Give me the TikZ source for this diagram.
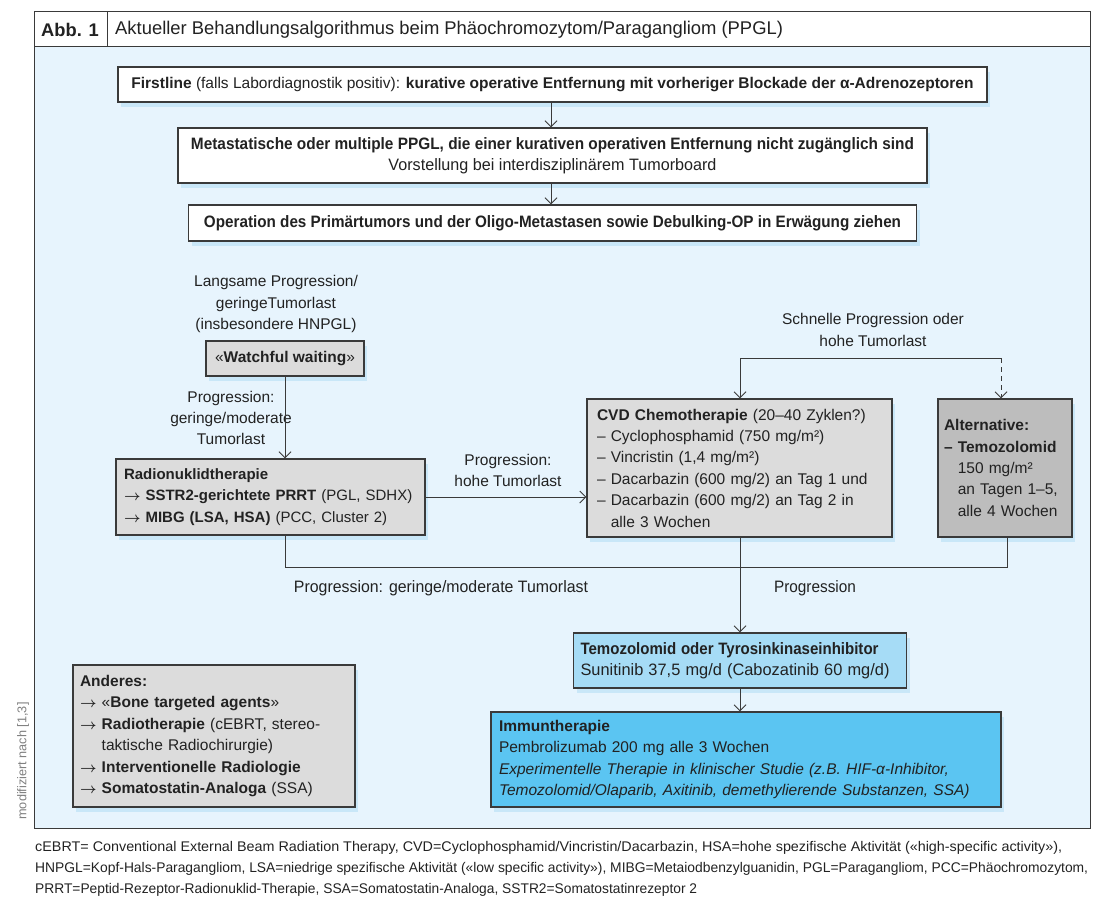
\documentclass[tikz,border=0pt]{standalone}
\usepackage{fontspec}
\setmainfont{Liberation Sans}
\usetikzlibrary{arrows.meta,shadows}
\definecolor{bgblue}{HTML}{E7F4FD}
\definecolor{graybox}{HTML}{DCDCDC}
\definecolor{darkgraybox}{HTML}{BDBDBD}
\definecolor{tkiblue}{HTML}{A6DCF6}
\definecolor{immblue}{HTML}{5BC5F2}
\definecolor{linecol}{HTML}{3A3A3A}
\definecolor{txt}{HTML}{222222}
\definecolor{shadowblue}{HTML}{C6E6F8}
\newcommand\mybody{\fontsize{15.5pt}{21.4pt}\selectfont}
\newcommand\mycond{\fontsize{16.5pt}{21.4pt}\selectfont}
\newcommand\myfoot{\fontsize{14pt}{21pt}\selectfont}
\newcommand\fitw[2]{\resizebox{#1}{\height}{#2}}
\newcommand\rarr{\ensuremath{\boldsymbol{\rightarrow}}}
\usepackage{amsmath}
\begin{document}
\begin{tikzpicture}[x=1pt,y=-1pt,
  box/.style={draw=linecol, line width=1.1pt, inner sep=0pt, font=\mybody, text=txt,
    drop shadow={fill=shadowblue, shadow xshift=3pt, shadow yshift=-5pt, opacity=0.9}},
  lbl/.style={font=\mybody, text=txt, align=center, inner sep=0pt},
  conn/.style={draw=linecol, line width=1pt},
  arr/.style={conn, -{Straight Barb[length=6pt,width=12pt,line width=1pt]}}
]
\useasboundingbox (0,0) rectangle (1100,909);
% frame
\fill[bgblue] (34,47) rectangle (1090,828);
\fill[white] (34,12) rectangle (1090,47);
\draw[linecol, line width=1pt] (34,12) rectangle (1090,828);
\draw[linecol, line width=1pt] (34,47) -- (1090,47);
\draw[linecol, line width=1pt] (107,12) -- (107,47);
\node[font=\fontsize{18.3pt}{20pt}\selectfont\bfseries, text=txt, inner sep=0pt] (abb) at (70,30) {Abb. 1};
\node[font=\fontsize{18.4pt}{20pt}\selectfont, text=txt, anchor=west, inner sep=0pt] (title) at (115,30) {Aktueller Behandlungsalgorithmus beim Phäochromozytom/Paragangliom (PPGL)};

% boxes
\node[box, fill=white, minimum width=869pt, minimum height=35pt] (b1) at (552.5,84.5)
  {\textbf{Firstline} (falls Labordiagnostik positiv): \textbf{kurative operative Entfernung mit vorheriger Blockade der α-Adrenozeptoren}};
\node[box, fill=white, minimum width=749pt, minimum height=55pt, align=center] (b2) at (552.5,155.5)
  {\fitw{723pt}{\mycond\bfseries Metastatische oder multiple PPGL, die einer kurativen operativen Entfernung nicht zugänglich sind}\\\fitw{328pt}{\mycond Vorstellung bei interdisziplinärem Tumorboard}};
\node[box, fill=white, minimum width=728pt, minimum height=36pt] (b3) at (552.5,223)
  {\fitw{697pt}{\mycond\bfseries Operation des Primärtumors und der Oligo-Metastasen sowie Debulking-OP in Erwägung ziehen}};
\node[box, fill=graybox, minimum width=158pt, minimum height=35pt] (ww) at (285,358.5)
  {«\textbf{Watchful waiting}»};
\node[box, fill=graybox, minimum width=309pt, minimum height=76pt, text width=293pt, align=left, font=\fontsize{15pt}{21.4pt}\selectfont] (rad) at (270.5,497)
  {\textbf{Radionuklidtherapie}\\\rarr\ \textbf{SSTR2-gerichtete PRRT} (PGL, SDHX)\\\rarr\ \textbf{MIBG (LSA, HSA)} (PCC, Cluster 2)};
\node[box, fill=graybox, minimum width=305pt, minimum height=138pt, text width=285pt, align=left] (cvd) at (739.5,468)
  {\textbf{CVD Chemotherapie} (20–40 Zyklen?)\\– Cyclophosphamid (750 mg/m²)\\– Vincristin (1,4 mg/m²)\\– Dacarbazin (600 mg/2) an Tag 1 und\\– Dacarbazin (600 mg/2) an Tag 2 in\\\phantom{– }alle 3 Wochen};
\node[box, fill=darkgraybox, minimum width=134pt, minimum height=138pt, text width=122pt, align=left] (alt) at (1005,468)
  {\textbf{Alternative:}\\\textbf{– Temozolomid}\\\phantom{– }150 mg/m²\\\phantom{– }an Tagen 1–5,\\\phantom{– }alle 4 Wochen};
\node[box, fill=tkiblue, minimum width=333pt, minimum height=55pt, text width=319pt, align=left] (tki) at (740,660.5)
  {\fitw{298pt}{\mycond\bfseries Temozolomid oder Tyrosinkinaseinhibitor}\\\fitw{309pt}{\mycond Sunitinib 37,5 mg/d (Cabozatinib 60 mg/d)}};
\node[box, fill=immblue, minimum width=510pt, minimum height=95pt, text width=494pt, align=left] (imm) at (746,759.5)
  {\textbf{Immuntherapie}\\Pembrolizumab 200 mg alle 3 Wochen\\\textit{Experimentelle Therapie in klinischer Studie (z.B. HIF-α-Inhibitor,}\\\textit{Temozolomid/Olaparib, Axitinib, demethylierende Substanzen, SSA)}};
\node[box, fill=graybox, minimum width=282pt, minimum height=142pt, text width=268pt, align=left] (and) at (214,736)
  {\textbf{Anderes:}\\\rarr\ «\textbf{Bone targeted agents}»\\\rarr\ \textbf{Radiotherapie} (cEBRT, stereo-\\\phantom{\rarr\ }taktische Radiochirurgie)\\\rarr\ \textbf{Interventionelle Radiologie}\\\rarr\ \textbf{Somatostatin-Analoga} (SSA)};

% labels
\node[lbl] (l1) at (276,304) {Langsame Progression/\\geringeTumorlast\\(insbesondere HNPGL)};
\node[lbl] (l2) at (231,418) {Progression:\\geringe/moderate\\Tumorlast};
\node[lbl] (l3) at (508,470.5) {Progression:\\hohe Tumorlast};
\node[lbl] (l4) at (873,330) {Schnelle Progression oder\\hohe Tumorlast};
\node[lbl] (l5) at (441,588) {\fitw{294pt}{\mycond Progression: geringe/moderate Tumorlast}};
\node[lbl] (l6) at (815,588) {\fitw{82pt}{\mycond Progression}};

% connectors
\draw[arr] (b1.south -| 551,0) -- (b2.north -| 551,0);
\draw[arr] (b2.south -| 551,0) -- (b3.north -| 551,0);
\draw[arr] (ww.south) -- (ww.south |- rad.north);
\draw[arr] (rad.east) -- (rad.east -| cvd.west);
\coordinate (t1) at (740,358);
\coordinate (t2) at (1001,358);
\draw[conn] (t1) -- (t2);
\draw[arr] (t1) -- (t1 |- cvd.north);
\draw[arr, dash pattern=on 5pt off 4pt] (t2) -- (t2 |- alt.north);
\coordinate (m1) at (285,567);
\coordinate (m2) at (1007,567);
\draw[conn] (rad.south -| m1) -- (m1) -- (m2) -- (m2 |- alt.south);
\draw[arr] (cvd.south -| t1) -- (tki.north -| t1);
\draw[arr] (tki.south) -- (tki.south |- imm.north);

% side note and footnote
\node[rotate=90, font=\fontsize{12.7pt}{14pt}\selectfont, text=gray, inner sep=0pt] (mod) at (23,761) {modifiziert nach [1,3]};
\node[font=\myfoot, text=txt, anchor=north west, align=left, inner sep=0pt] (foot) at (35,841)
  {\fitw{1027pt}{cEBRT= Conventional External Beam Radiation Therapy, CVD=Cyclophosphamid/Vincristin/Dacarbazin, HSA=hohe spezifische Aktivität («high-specific activity»),}\\
   \fitw{1053pt}{HNPGL=Kopf-Hals-Paragangliom, LSA=niedrige spezifische Aktivität («low specific activity»), MIBG=Metaiodbenzylguanidin, PGL=Paragangliom, PCC=Phäochromozytom,}\\
   \fitw{662pt}{PRRT=Peptid-Rezeptor-Radionuklid-Therapie, SSA=Somatostatin-Analoga, SSTR2=Somatostatinrezeptor 2}};
\end{tikzpicture}
\end{document}
